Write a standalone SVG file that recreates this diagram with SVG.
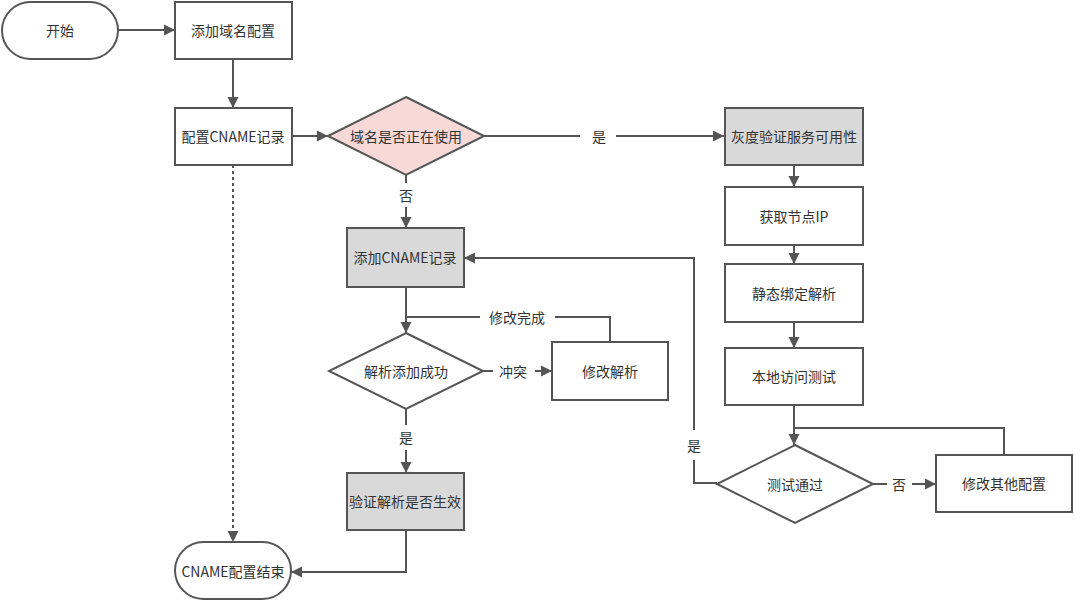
<svg xmlns="http://www.w3.org/2000/svg" width="1075" height="602" viewBox="0 0 1075 602">
<defs>
<marker id="ah" markerUnits="userSpaceOnUse" markerWidth="12" markerHeight="12" viewBox="0 0 12 12" refX="11" refY="6" orient="auto">
<path d="M0,0.5 L11,6 L0,11.5 Z" fill="#555"/>
</marker>
<style>
.n{fill:#fff;stroke:#555;stroke-width:2}
.g{fill:#d9d9d9;stroke:#555;stroke-width:2}
.p{fill:#f9d9d7;stroke:#555;stroke-width:2}
.t{font-family:"Noto Sans CJK SC","Liberation Sans",sans-serif;font-size:14px;fill:#333;text-anchor:middle;dominant-baseline:central}
.c{fill:none;stroke:#555;stroke-width:2}
.a{marker-end:url(#ah)}
.d{stroke-dasharray:3,3}
</style>
</defs>
<rect width="1075" height="602" fill="#fff"/>
<g id="connectors">
<line class="c a" x1="118" y1="30" x2="175" y2="30"/>
<line class="c a" x1="233" y1="59" x2="233" y2="108"/>
<line class="c a" x1="292" y1="136" x2="328" y2="136"/>
<line class="c d a" x1="233" y1="165" x2="233" y2="542"/>
<line class="c" x1="484" y1="136" x2="580" y2="136"/>
<line class="c a" x1="616" y1="136" x2="724" y2="136"/>
<text class="t" x="599" y="136">是</text>
<line class="c" x1="406" y1="175" x2="406" y2="183"/>
<line class="c a" x1="406" y1="207" x2="406" y2="228"/>
<text class="t" x="406" y="195">否</text>
<line class="c a" x1="406" y1="287" x2="406" y2="333"/>
<polyline class="c" points="610,342 610,317 555,317"/>
<line class="c" x1="480" y1="317" x2="406" y2="317"/>
<text class="t" x="517" y="317">修改完成</text>
<line class="c" x1="482" y1="371" x2="493" y2="371"/>
<line class="c a" x1="535" y1="371" x2="552" y2="371"/>
<text class="t" x="513" y="371">冲突</text>
<line class="c" x1="406" y1="409" x2="406" y2="425"/>
<line class="c a" x1="406" y1="450" x2="406" y2="473"/>
<text class="t" x="406" y="437">是</text>
<polyline class="c a" points="406,530 406,572 291,572"/>
<line class="c a" x1="794" y1="165" x2="794" y2="187"/>
<line class="c a" x1="794" y1="245" x2="794" y2="264"/>
<line class="c a" x1="794" y1="322" x2="794" y2="348"/>
<line class="c a" x1="794" y1="405" x2="794" y2="445"/>
<polyline class="c" points="1004,455 1004,428 794,428"/>
<line class="c" x1="873" y1="484" x2="887" y2="484"/>
<line class="c a" x1="912" y1="484" x2="936" y2="484"/>
<text class="t" x="899" y="484">否</text>
<polyline class="c" points="717,483 694,483 694,460"/>
<polyline class="c a" points="694,430 694,258 464,258"/>
<text class="t" x="694" y="445">是</text>
</g>
<g id="start"><rect class="n" x="2" y="2" width="116" height="57" rx="28.5"/><text class="t" x="60" y="30">开始</text></g>
<g id="addDomain"><rect class="n" x="175" y="2" width="117" height="57"/><text class="t" x="233" y="30">添加域名配置</text></g>
<g id="configCname"><rect class="n" x="175" y="108" width="117" height="57"/><text class="t" x="233" y="136">配置CNAME记录</text></g>
<g id="inUse"><polygon class="p" points="406,97 484,136 406,175 328,136"/><text class="t" x="406" y="136">域名是否正在使用</text></g>
<g id="addCname"><rect class="g" x="347" y="228" width="117" height="59"/><text class="t" x="405" y="257">添加CNAME记录</text></g>
<g id="addOk"><polygon class="n" points="406,333 483,371 406,409 329,371"/><text class="t" x="406" y="371">解析添加成功</text></g>
<g id="fixDns"><rect class="n" x="552" y="342" width="116" height="58"/><text class="t" x="610" y="371">修改解析</text></g>
<g id="verify"><rect class="g" x="347" y="473" width="117" height="57"/><text class="t" x="405" y="501">验证解析是否生效</text></g>
<g id="end"><rect class="n" x="175" y="542" width="116" height="57" rx="28.5"/><text class="t" x="233" y="571">CNAME配置结束</text></g>
<g id="gray"><rect class="g" x="725" y="108" width="138" height="57"/><text class="t" x="794" y="136">灰度验证服务可用性</text></g>
<g id="getIp"><rect class="n" x="725" y="187" width="138" height="58"/><text class="t" x="794" y="216">获取节点IP</text></g>
<g id="bind"><rect class="n" x="725" y="264" width="138" height="58"/><text class="t" x="794" y="293">静态绑定解析</text></g>
<g id="localTest"><rect class="n" x="725" y="348" width="138" height="57"/><text class="t" x="794" y="376">本地访问测试</text></g>
<g id="pass"><polygon class="n" points="795,445 873,484 795,523 717,484"/><text class="t" x="795" y="484">测试通过</text></g>
<g id="fixOther"><rect class="n" x="936" y="455" width="136" height="57"/><text class="t" x="1004" y="483">修改其他配置</text></g>
</svg>
